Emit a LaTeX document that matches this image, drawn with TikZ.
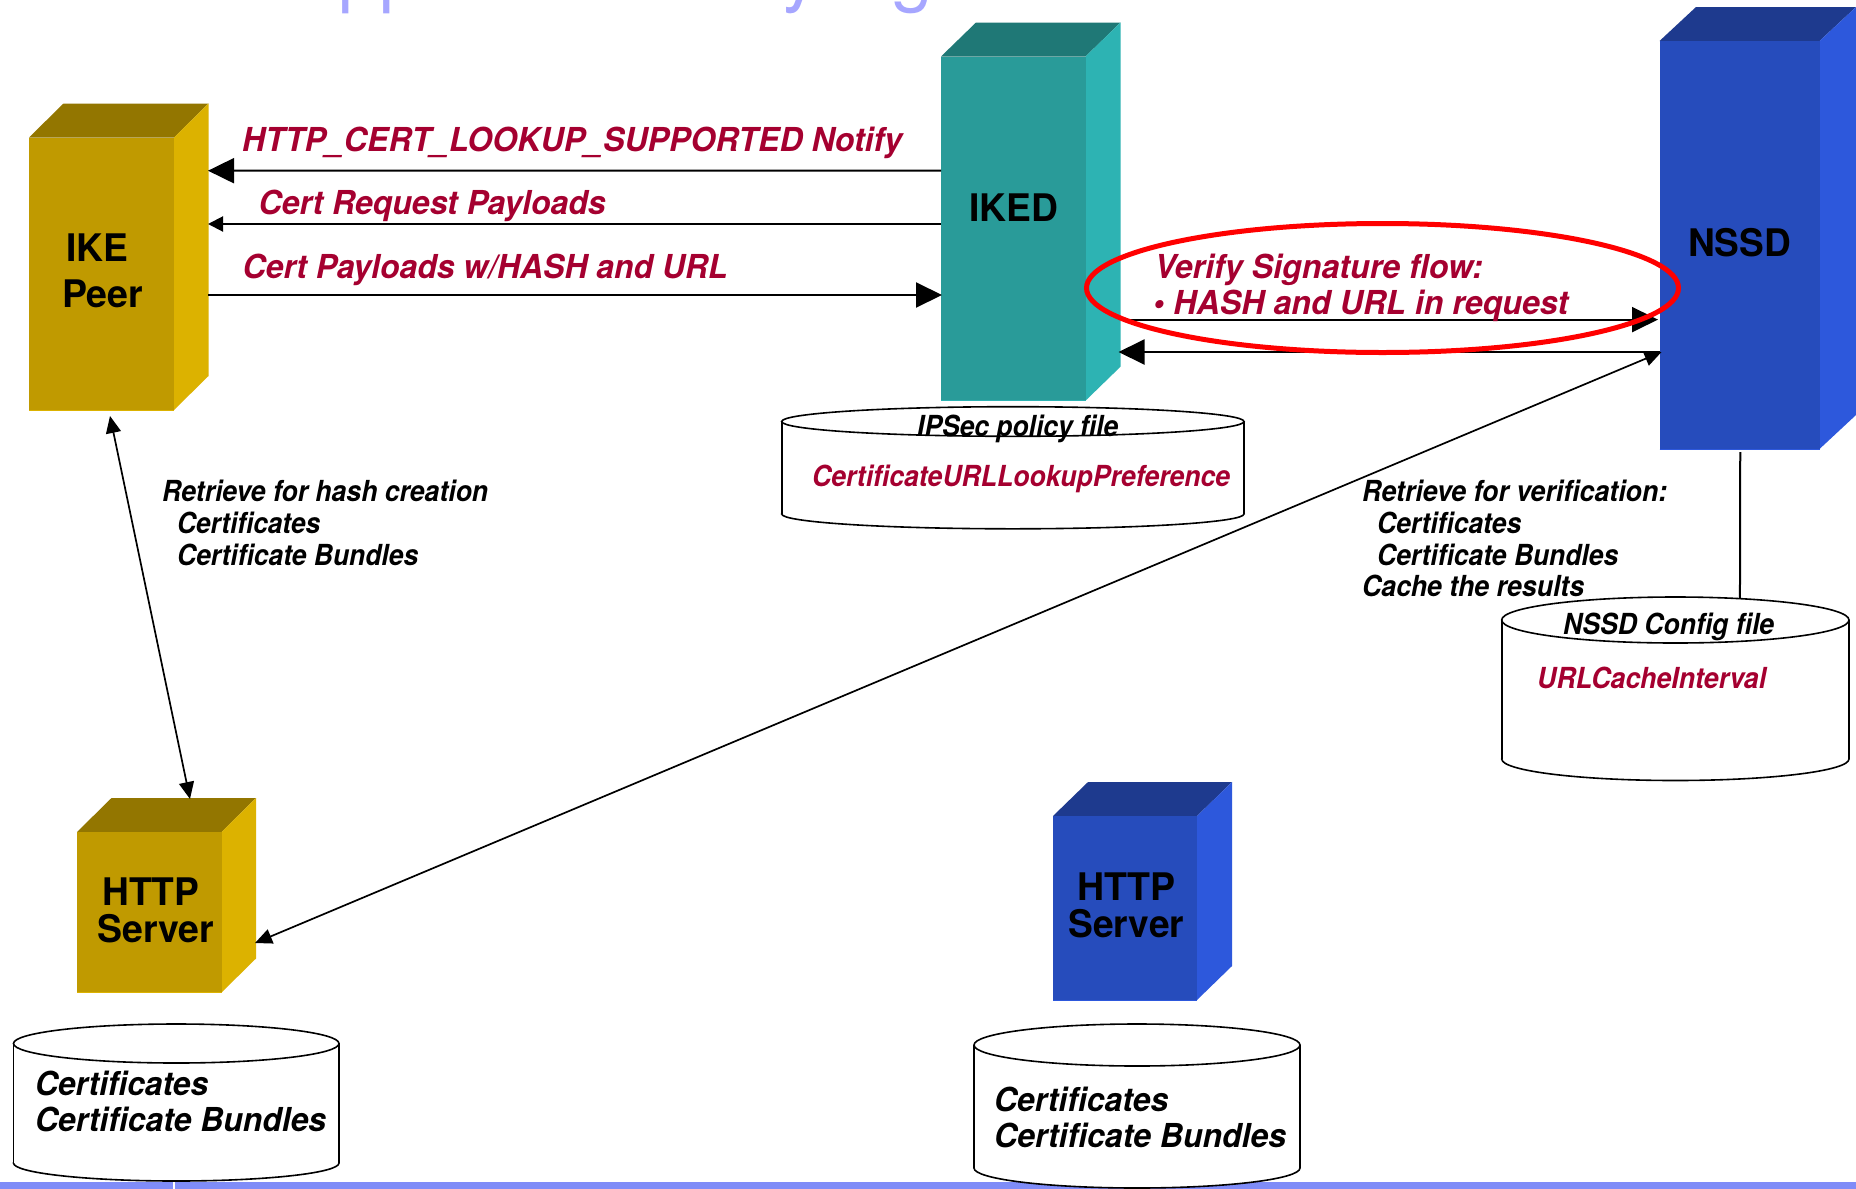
\documentclass[tikz,border=0pt]{standalone}
\usepackage{fontspec}
\setmainfont{TeX Gyre Heros}
\usetikzlibrary{arrows.meta}
\definecolor{goldF}{HTML}{C09A00}\definecolor{goldT}{HTML}{937600}\definecolor{goldS}{HTML}{DCB200}
\definecolor{tealF}{HTML}{299B99}\definecolor{tealT}{HTML}{1F7876}\definecolor{tealS}{HTML}{2DB3B3}
\definecolor{blueF}{HTML}{264CBC}\definecolor{blueT}{HTML}{1E3A8E}\definecolor{blueS}{HTML}{2D58DC}
\definecolor{lblred}{HTML}{A50030}\definecolor{band}{HTML}{7F8CF8}\definecolor{titlec}{HTML}{A6A6FF}
\newcommand\wfit[2]{\resizebox{#1pt}{\height}{#2}}
% front x1,x2,ytop,ybot, depth dx, colours T,S,F
\newcommand\cubeshape[8]{%
  \fill[#6] (#1,#3) -- ({#1+#5},{#3-34}) -- ({#2+#5},{#3-34}) -- (#2,#3) -- cycle;
  \fill[#7] (#2,#3) -- ({#2+#5},{#3-34}) -- ({#2+#5},{#4-34}) -- (#2,#4) -- cycle;
  \fill[#8] (#1,#3) rectangle (#2,#4);
  \draw[#7,line width=.8pt] (#1,#4) -- (#2,#4);
}
% cx, rx, ymid, ry, yside, rybot
\newcommand\cylshape[6]{%
  \filldraw[cylline] (#1,#5) ellipse [x radius=#2,y radius=#6];
  \fill[white] ({#1-#2},#3) rectangle ({#1+#2},#5);
  \draw[cylline] ({#1-#2},#3) -- ({#1-#2},#5) ({#1+#2},#3) -- ({#1+#2},#5);
  \filldraw[cylline] (#1,#3) ellipse [x radius=#2,y radius=#4];
}
\tikzset{
  x=1pt,y=-1pt,
  cylline/.style={draw=black,fill=white,line width=1.6pt},
  holder/.style={inner sep=0pt,outer sep=0pt,draw=none,fill=none},
  redlbl/.style={anchor=base west,inner sep=0pt,text=lblred,font=\fontsize{33}{33}\selectfont\bfseries\itshape},
  redsmall/.style={anchor=base west,inner sep=0pt,text=lblred,font=\fontsize{29}{29}\selectfont\bfseries\itshape},
  blacklbl/.style={anchor=base west,inner sep=0pt,text=black,font=\fontsize{29}{29}\selectfont\bfseries\itshape},
  certlbl/.style={anchor=base west,inner sep=0pt,text=black,font=\fontsize{33}{33}\selectfont\bfseries\itshape},
  boxlbl/.style={anchor=base west,inner sep=0pt,text=black,font=\fontsize{38}{38}\selectfont\bfseries},
  titlelbl/.style={anchor=base west,inner sep=0pt,text=titlec,font=\fontsize{75}{75}\selectfont},
  flow/.style={draw=black,line width=2pt},
  bigL/.style={flow,{Triangle[length=26pt,width=25pt]}-},
  bigR/.style={flow,-{Triangle[length=26pt,width=25pt]}},
  midL/.style={flow,{Triangle[length=15pt,width=15pt]}-},
  dbl/.style={draw=black,line width=1.7pt,{Triangle[length=17pt,width=15pt]}-{Triangle[length=17pt,width=15pt]}},
}
\begin{document}
\begin{tikzpicture}
\useasboundingbox (0,0) rectangle (1856,1189);
\fill[white] (0,0) rectangle (1856,1189);
\begin{scope}
\clip (0,0) rectangle (1856,1189);
\node[titlelbl] (t1) at (338,-3) {pp};
\node[titlelbl] (t2) at (782,-3) {y};
\node[titlelbl] (t3) at (891,-3) {g};
\fill[band] (0,1182) rectangle (173,1189);
\fill[band] (175,1182) rectangle (1856,1189);
\end{scope}

% anchors spanning each 3-D box
\node[holder,minimum width=179pt,minimum height=306pt] (ike) at (118.5,257) {};
\node[holder,minimum width=179.5pt,minimum height=377.7pt] (iked) at (1030.75,211.85) {};
\node[holder,minimum width=196.5pt,minimum height=442pt] (nssd) at (1757.75,228) {};
\node[holder,minimum width=179pt,minimum height=195pt] (httpa) at (166.5,895.5) {};
\node[holder,minimum width=179pt,minimum height=218pt] (httpb) at (1142.5,891) {};
\node[holder,minimum width=347.3pt,minimum height=184pt] (cfg) at (1675.35,689) {};
\node[holder,minimum width=462.3pt,minimum height=122pt] (pol) at (1012.85,468) {};
\node[holder,minimum width=325.5pt,minimum height=157pt] (cera) at (176.25,1102.5) {};
\node[holder,minimum width=326pt,minimum height=165pt] (cerb) at (1137,1106.5) {};

% 3-D boxes
\cubeshape{29}{174}{137.5}{410}{34.5}{goldT}{goldS}{goldF}
\cubeshape{941}{1085.5}{56.5}{400.7}{35}{tealT}{tealS}{tealF}
\cubeshape{1659.5}{1819.5}{41}{449}{36.5}{blueT}{blueS}{blueF}
\cubeshape{77}{221.5}{832}{992.5}{34.5}{goldT}{goldS}{goldF}
\cubeshape{1053}{1197}{816}{1000}{35}{blueT}{blueS}{blueF}

% connector under the config cylinder
\draw[draw=black,line width=2pt] ([xshift=-17.5pt,yshift=-3pt]nssd.south) -- ([xshift=64.6pt,yshift=-3pt]cfg.north);

% cylinders
\cylshape{1012.85}{231.15}{421.5}{14.8}{514}{14.8}
\cylshape{1675.35}{173.65}{620}{23}{759}{21.5}
\cylshape{176.25}{162.75}{1043.5}{19.5}{1163}{18}
\cylshape{1137}{163}{1045}{21}{1168}{20}

% connectors
\draw[bigL] ([yshift=86.3pt]ike.east) -- ([yshift=41.15pt]iked.west);
\draw[midL] ([yshift=33pt]ike.east) -- ([yshift=-12.15pt]iked.west);
\draw[bigR] ([yshift=-38pt]ike.east) -- ([xshift=1pt,yshift=-83.15pt]iked.west);
\draw[bigR] ([yshift=-107.75pt]iked.east) -- ([yshift=-91.6pt,xshift=-1.5pt]nssd.west);
\draw[bigL] ([xshift=-2pt,yshift=-140.15pt]iked.east) -- ([yshift=-124pt]nssd.west);
\draw[dbl] ([xshift=-1pt,yshift=-47.5pt]httpa.east) -- ([yshift=-124pt,xshift=2pt]nssd.west);
\draw[dbl] ([xshift=-8.5pt,yshift=-6pt]ike.south) -- ([xshift=23.5pt,yshift=-1pt]httpa.north);

% labels
\node[redlbl] (n1) at (242,151) {\wfit{660}{HTTP\_CERT\_LOOKUP\_SUPPORTED Notify}};
\node[redlbl] (n2) at (258.5,214) {\wfit{347}{Cert Request Payloads}};
\node[redlbl] (n3) at (242.5,278.7) {\wfit{485}{Cert Payloads w/HASH and URL}};
\node[redlbl] (n4) at (1154.5,278) {\wfit{328}{Verify Signature flow:}};
\node[redlbl] (n5) at (1153,314.6) {\wfit{415}{• HASH and URL in request}};

\node[boxlbl] (b1) at (66,261) {\wfit{62}{IKE}};
\node[boxlbl] (b2) at (62,307) {\wfit{81}{Peer}};
\node[boxlbl] (b3) at (969,221) {\wfit{89}{IKED}};
\node[boxlbl] (b4) at (1688,256) {\wfit{103}{NSSD}};
\node[boxlbl] (b5) at (102,905) {\wfit{97}{HTTP}};
\node[boxlbl] (b6) at (97,942.7) {\wfit{117}{Server}};
\node[boxlbl] (b7) at (1077,900) {\wfit{98}{HTTP}};
\node[boxlbl] (b8) at (1068,937.7) {\wfit{116}{Server}};

\node[blacklbl] (r1) at (162,501) {\wfit{326}{Retrieve for hash creation}};
\node[blacklbl] (r2) at (177,533) {\wfit{143}{Certificates}};
\node[blacklbl] (r3) at (177,565) {\wfit{241}{Certificate Bundles}};
\node[blacklbl] (v1) at (1362,501) {\wfit{305}{Retrieve for verification:}};
\node[blacklbl] (v2) at (1377,533) {\wfit{144}{Certificates}};
\node[blacklbl] (v3) at (1377,565) {\wfit{241}{Certificate Bundles}};
\node[blacklbl] (v4) at (1362,596.5) {\wfit{222}{Cache the results}};

\node[blacklbl] (p1) at (917,436) {\wfit{201}{IPSec policy file}};
\node[redsmall] (p2) at (812,486) {\wfit{418}{CertificateURLLookupPreference}};
\node[blacklbl] (c1) at (1563,634) {\wfit{211}{NSSD Config file}};
\node[redsmall] (c2) at (1537,688) {\wfit{229}{URLCacheInterval}};
\node[certlbl] (a1) at (35,1095) {\wfit{173}{Certificates}};
\node[certlbl] (a2) at (35,1131) {\wfit{291}{Certificate Bundles}};
\node[certlbl] (d1) at (994,1111) {\wfit{174}{Certificates}};
\node[certlbl] (d2) at (994,1147) {\wfit{292}{Certificate Bundles}};

% red highlight
\draw[draw=red,line width=5pt] (1382.5,288) ellipse [x radius=296,y radius=64.5];
\end{tikzpicture}
\end{document}
